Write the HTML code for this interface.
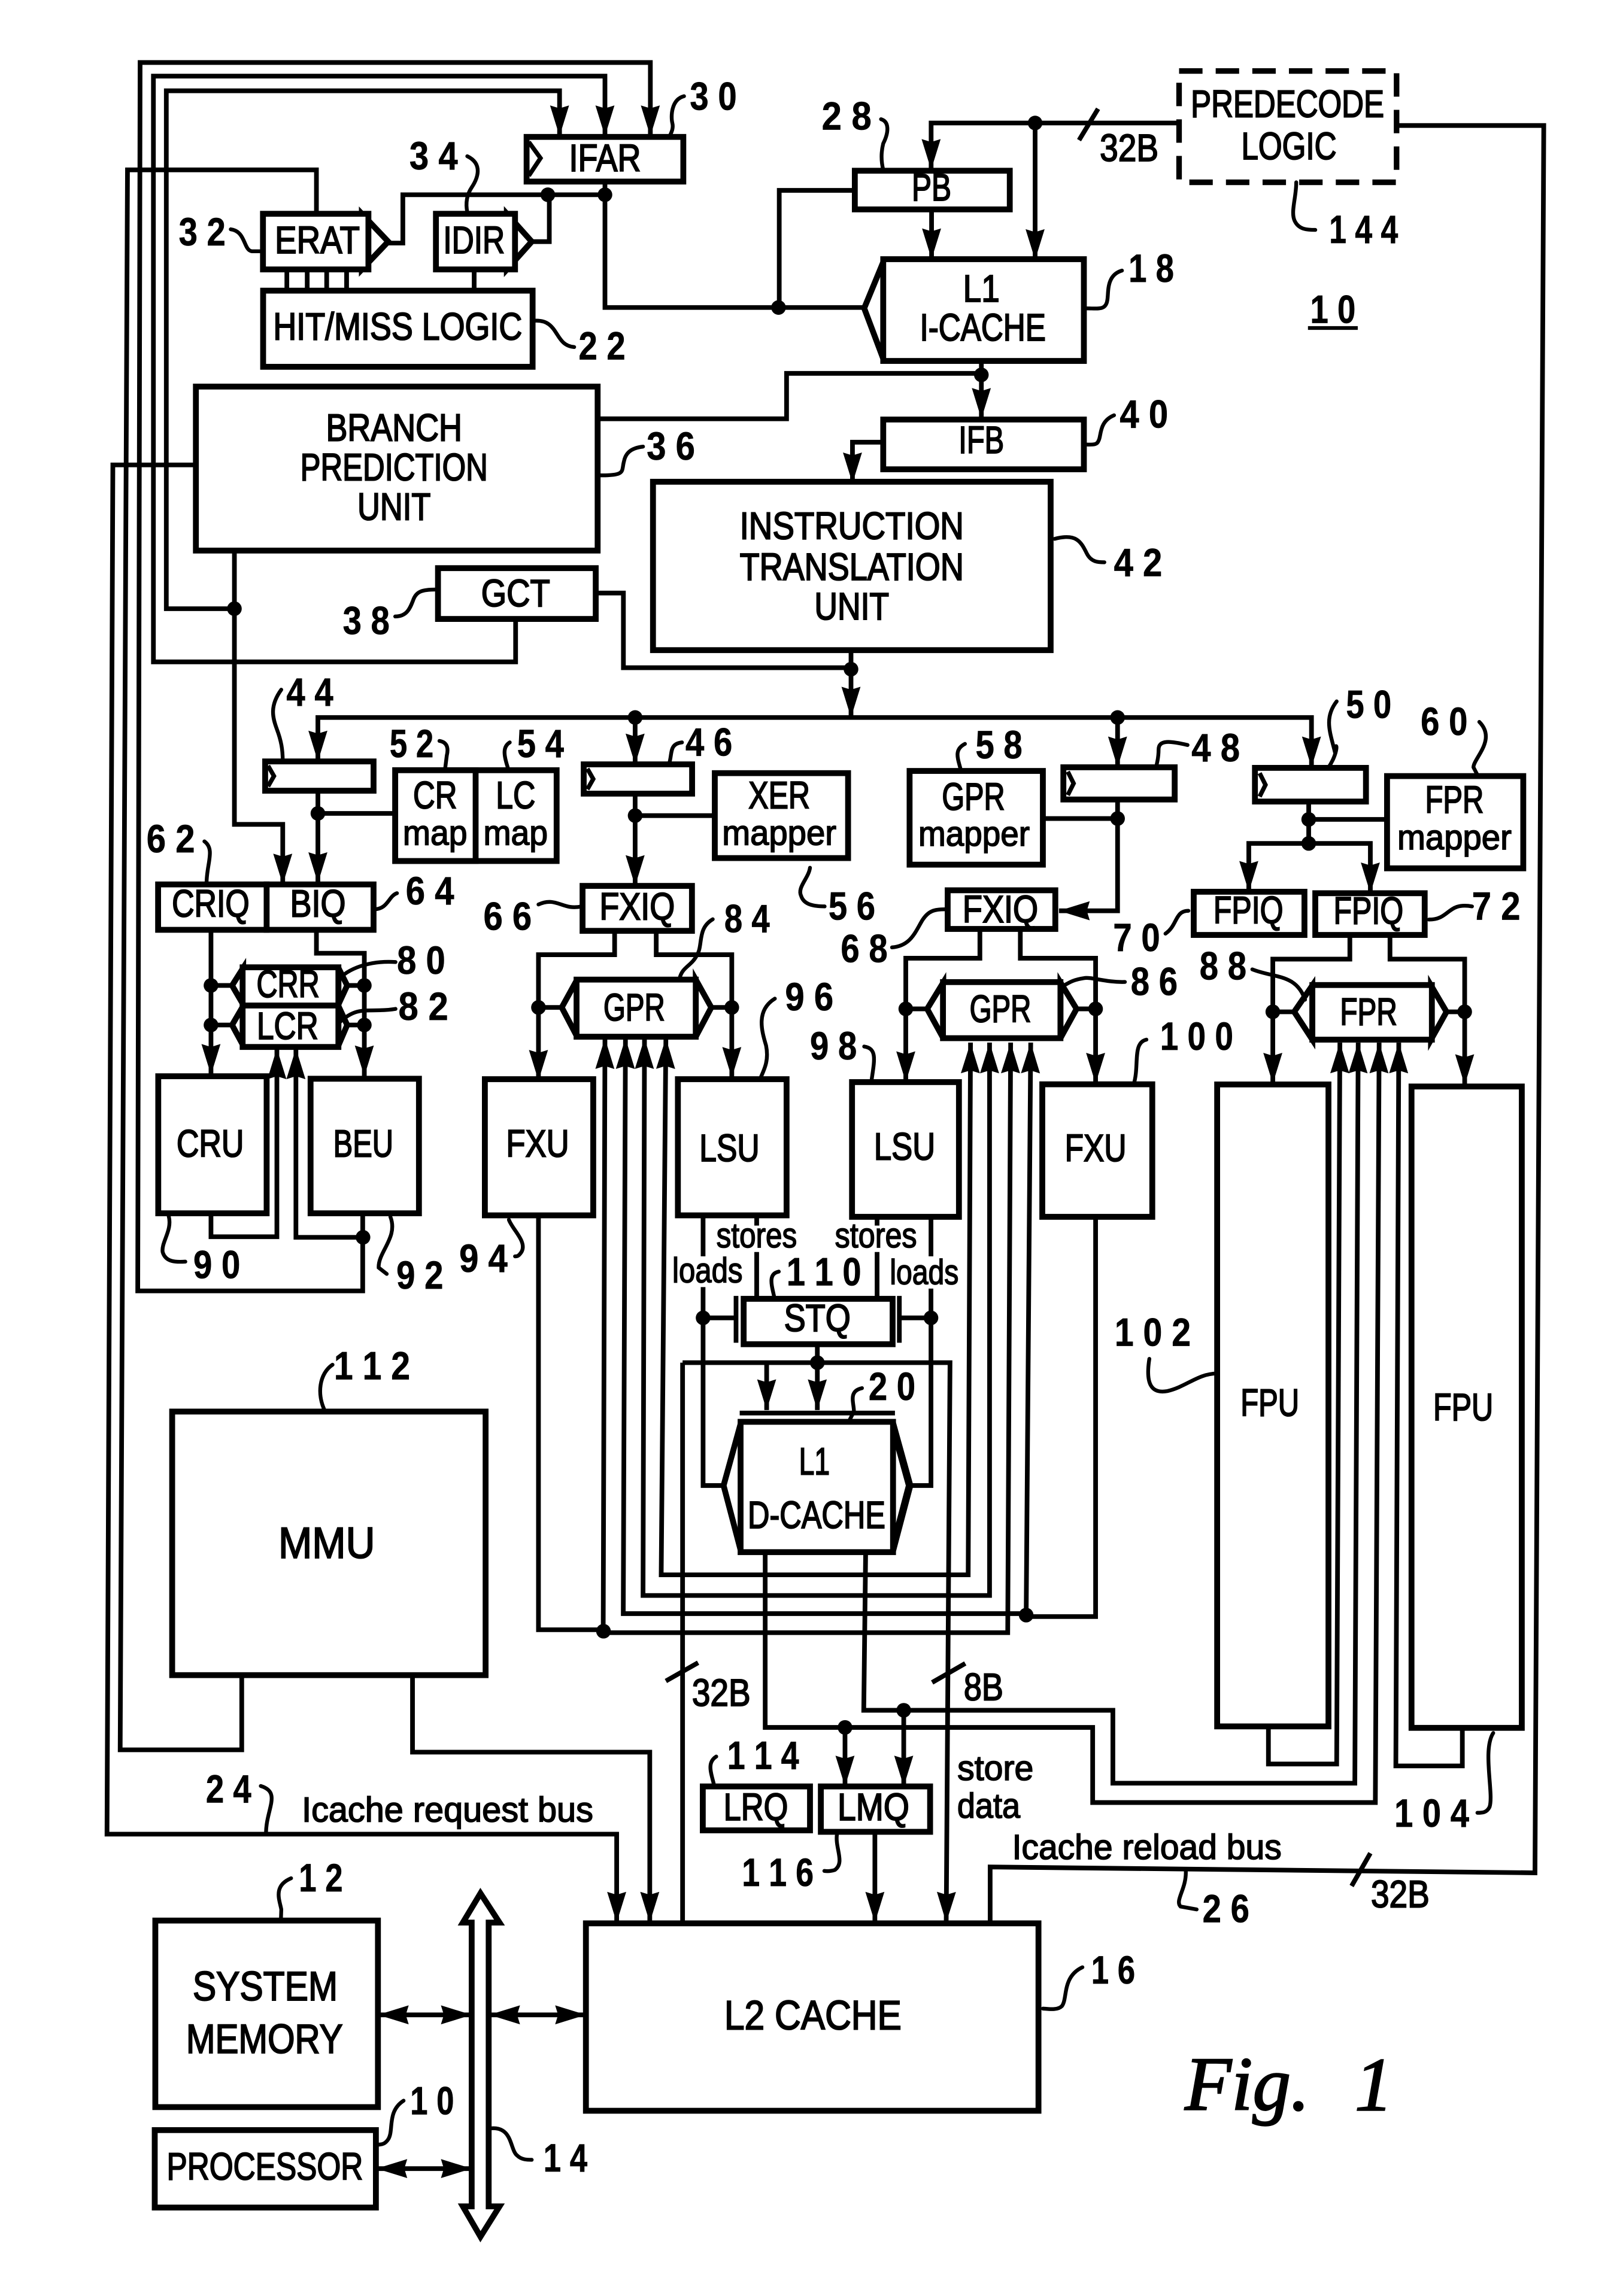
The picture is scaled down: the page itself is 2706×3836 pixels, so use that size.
<!DOCTYPE html>
<html><head><meta charset="utf-8"><title>Fig. 1</title>
<style>
html,body{margin:0;padding:0;background:#fff}
svg{display:block}
text{font-family:"Liberation Sans",sans-serif;fill:#000;text-anchor:middle}
.t{font-size:26px;stroke:#000;stroke-width:.85px}
.s{font-size:24px;stroke:#000;stroke-width:.7px}
.n{font-size:27px;font-weight:bold;stroke:#000;stroke-width:.3px}
.f{font-family:"Liberation Serif",serif;font-style:italic;font-size:52px;text-anchor:start;stroke:#000;stroke-width:1px}
.w path{fill:none;stroke:#000;stroke-width:3.2;stroke-linejoin:miter}
.a path{marker-end:url(#m)}
.b rect,.b polygon{fill:#fff;stroke:#000;stroke-width:4}
.c polyline{fill:none;stroke:#000;stroke-width:3}
.l path{fill:none;stroke:#000;stroke-width:2.6;stroke-linecap:round}
.d circle{fill:#000}
</style></head><body>
<svg xmlns="http://www.w3.org/2000/svg" width="2706" height="3836" viewBox="0 0 1106 1568">
<defs><marker id="m" markerUnits="userSpaceOnUse" markerWidth="24" markerHeight="16" refX="21" refY="7" orient="auto-start-reverse" overflow="visible"><path d="M0 0.5L21 7L0 13.5L2 7z" fill="#000"/></marker></defs>
<rect width="1106" height="1568" fill="#fff"/>

<g class="w a">
<path d="M247.6 829V881.6H94L95.6 42.7H444V93"/>
<path d="M352 422V452H104.7V52H413V93"/>
<path d="M160 415.7H113.5V62H382V93"/>
<path d="M133 317.5H77L73 1252.6H421V1313"/>
<path d="M281.6 1145V1196.6H443.6V1313"/>
<path d="M670 246V286"/>
<path d="M603 302H582V330"/>
<path d="M160 377V563H193V604"/>
<path d="M581 444V490"/>
<path d="M581 490H217V520"/>
<path d="M581 490H895.4V524"/>
<path d="M433.6 490V522"/>
<path d="M763 490V524"/>
<path d="M217 540V603"/>
<path d="M433.6 542V605"/>
<path d="M763 546V622H723"/>
<path d="M893.5 576H852.6V609"/>
<path d="M893.5 576H935.6V610"/>
<path d="M144 635V734"/>
<path d="M216 635V651H248.7V735"/>
<path d="M144 829V844.6H189V716"/>
<path d="M247.8 845H202V716"/>
<path d="M419.6 636V652H367.6V738"/>
<path d="M448 636V652H499.6V736"/>
<path d="M669 634V654.4H618.4V739"/>
<path d="M696.6 634V654.4H748V740"/>
<path d="M921.6 638V655H869V740"/>
<path d="M949 638V655H1000V741"/>
<path style="marker-start:url(#m)" d="M662.6 712L661 1075.5H451.4L454.6 709"/>
<path style="marker-start:url(#m)" d="M675.6 712V1089.6H439L440 709"/>
<path style="marker-start:url(#m)" d="M690 712L688 1115H411.8L413 709"/>
<path style="marker-start:url(#m)" d="M703.7 712L700.6 1102H425.5L427 709"/>
<path d="M558 918V963"/>
<path d="M523.4 930.6V963"/>
<path d="M466 930.6H648.6L646 1313"/>
<path d="M522.4 1060V1179.7H746V1231H939L941.6 712"/>
<path d="M591 1060L589.7 1168H759.8V1217.8H925L927.3 712"/>
<path d="M576.9 1179.7V1220"/>
<path d="M617 1168V1220"/>
<path d="M866 1180V1204.7H912.6L914.8 712"/>
<path d="M998.4 1180V1206H953L955 712"/>
<path d="M597.3 1251V1313"/>
<path d="M805 84H635.7V116"/>
<path d="M706.7 84V177.5"/>
<path d="M636 143V177"/>
<path style="marker-start:url(#m)" d="M258 1376H322"/>
<path style="marker-start:url(#m)" d="M334 1376H400"/>
<path style="marker-start:url(#m)" d="M257 1481H322"/>
</g>
<g class="w">
<path d="M216 146V116H87L82 1195H165V1145"/>
<path d="M265 166H275V133H413"/>
<path d="M363 165H375V133"/>
<path d="M413 124V210H590"/>
<path d="M583.6 130H532V210"/>
<path d="M408 286H537V255H670"/>
<path d="M406 405H425.6V456H581"/>
<path d="M217 555.5H270"/>
<path d="M433.6 557H488"/>
<path d="M763 559H712"/>
<path d="M893.5 547V576"/>
<path d="M893.5 559.6H947"/>
<path d="M144 673H158M144 700H158M237 673H248.7M237 700H248.7"/>
<path d="M367.6 688H383.5M485.6 688H499.6"/>
<path d="M618.4 689H633M735 689H748"/>
<path d="M869 691H883.6M987.6 691H1000"/>
<path d="M367.6 830V1113H412"/>
<path d="M748 831V1104H700"/>
<path d="M480 830V858M480 879V1014.5H494M480 900H502"/>
<path d="M635.6 831V858M635.6 880V1014.5H621M635.6 900H614"/>
<path d="M516.6 830V837M516.6 855V887M598.8 831V837M598.8 855V887"/>
<path d="M502.5 885V917M614 885V917"/>
<path d="M466 1313V930.6"/>
<path d="M505 965H611"/>
<path d="M953.5 85.7H1054L1048 1279L676 1275V1313"/>
<path d="M195.8 184V198M209.7 184V198M223 184V198M236.6 184V198M323.7 184V198"/>
<path d="M736.7 95.7L749.7 74.3M454.6 1148L476.6 1135.5M636.4 1149L659 1136M922.8 1288L935.6 1265.6"/>
</g>

<g class="b">
<polygon points="247,146 265,165 247,184"/>
<polygon points="346,146 363,165 346,184"/>
<polygon points="603,179 590,210.5 603,245"/>
<polygon points="166,661 158.4,673 166,686"/>
<polygon points="166,687 158.4,700 166,714"/>
<polygon points="231,661 237,673 231,686"/>
<polygon points="231,687 237,700 231,714"/>
<polygon points="394,669 383.5,688 394,708"/>
<polygon points="475,669 485.6,688 475,708"/>
<polygon points="644,671 633,689 644,709"/>
<polygon points="724,671 735,689 724,709"/>
<polygon points="896,673 883.6,691 896,710"/>
<polygon points="977,673 987.6,691 977,710"/>
<polygon points="506,971 494,1014.5 506,1060"/>
<polygon points="609,971 621,1014.5 609,1060" style="stroke-width:5"/>
<rect x="359.5" y="93.5" width="107" height="30.5"/>
<rect x="179.5" y="146" width="72" height="38"/>
<rect x="297.6" y="146" width="54" height="38"/>
<rect x="179.6" y="198.5" width="184" height="52"/>
<rect x="133.7" y="264" width="274.3" height="112"/>
<rect x="299" y="388" width="107.7" height="34.7"/>
<rect x="583.6" y="116.6" width="105.8" height="26.4"/>
<rect x="603" y="177" width="137" height="69.5"/>
<rect x="603" y="286.5" width="137" height="34"/>
<rect x="445.8" y="329" width="271.5" height="115"/>
<rect x="181" y="520" width="74" height="20"/>
<rect x="398.5" y="522" width="74" height="20"/>
<rect x="726" y="524" width="76" height="22"/>
<rect x="856.8" y="524.4" width="75.8" height="23"/>
<rect x="269.8" y="526" width="110.2" height="62"/>
<rect x="269.8" y="526" width="54.9" height="62"/>
<rect x="488" y="528" width="91" height="58"/>
<rect x="621" y="526.5" width="91" height="64"/>
<rect x="947" y="530" width="93" height="63"/>
<rect x="107.9" y="604" width="74.1" height="31"/>
<rect x="182" y="604" width="73" height="31"/>
<rect x="397.7" y="605" width="74.7" height="30.7"/>
<rect x="647" y="608" width="73.5" height="26.4"/>
<rect x="815" y="609" width="75.6" height="29.5"/>
<rect x="898" y="610" width="74.7" height="28.5"/>
<rect x="165.6" y="660.6" width="65.4" height="26.1"/>
<rect x="165.6" y="686.7" width="65.4" height="28.3"/>
<rect x="393.6" y="669" width="81.4" height="39"/>
<rect x="643.8" y="670.7" width="80.2" height="38.3"/>
<rect x="896" y="672.7" width="81.6" height="37.3"/>
<rect x="108" y="735" width="74" height="93.6"/>
<rect x="212" y="736.7" width="74" height="91.9"/>
<rect x="331" y="737" width="74" height="93"/>
<rect x="462.8" y="737" width="74.2" height="93"/>
<rect x="581.7" y="739" width="73" height="92"/>
<rect x="711.6" y="740.5" width="75.1" height="90.5"/>
<rect x="831" y="740.6" width="76" height="438.4"/>
<rect x="963.7" y="742" width="75.3" height="438"/>
<rect x="507.7" y="887" width="101.7" height="31"/>
<rect x="505.6" y="971" width="104.1" height="89"/>
<rect x="117.5" y="964" width="214" height="180"/>
<rect x="479.8" y="1220" width="73.2" height="30"/>
<rect x="560.4" y="1220" width="74.6" height="31"/>
<rect x="106" y="1311.6" width="152" height="127.4"/>
<rect x="105.6" y="1454.7" width="151" height="52.9"/>
<rect x="400" y="1313.5" width="309" height="128"/>
<polygon points="328,1293 341,1313 333.6,1313 333.6,1506.8 341,1506.8 328,1527.5 316,1506.8 322,1506.8 322,1313 316,1313"/>
</g>
<rect x="805" y="48.5" width="148.5" height="76" fill="none" stroke="#000" stroke-width="3.8" stroke-dasharray="16 9"/>

<g class="c">
<polyline points="361,97 369,108 361,120"/>
<polyline points="183,523 187,530 183,537"/>
<polyline points="401,525 405,532 401,539"/>
<polyline points="729,527 733,535 729,543"/>
<polyline points="860,528 864,536 860,544"/>
</g>

<g class="d">
<circle cx="374" cy="133" r="5"/><circle cx="413" cy="133" r="5"/><circle cx="531.5" cy="210" r="5"/><circle cx="670" cy="256" r="5"/><circle cx="706.7" cy="84" r="5"/><circle cx="160" cy="415.7" r="5"/><circle cx="581" cy="457" r="5"/><circle cx="433.6" cy="490" r="5"/><circle cx="763" cy="490" r="5"/><circle cx="217" cy="555.5" r="5"/><circle cx="433.6" cy="557" r="5"/><circle cx="763" cy="559" r="5"/><circle cx="893.5" cy="559.6" r="5"/><circle cx="893.5" cy="576" r="5"/><circle cx="144" cy="673" r="5"/><circle cx="144" cy="700" r="5"/><circle cx="248.7" cy="673" r="5"/><circle cx="248.7" cy="700" r="5"/><circle cx="247.8" cy="845" r="5"/><circle cx="367.6" cy="688" r="5"/><circle cx="499.6" cy="688" r="5"/><circle cx="618.4" cy="689" r="5"/><circle cx="748" cy="689" r="5"/><circle cx="869" cy="691" r="5"/><circle cx="1000" cy="691" r="5"/><circle cx="412" cy="1114" r="5"/><circle cx="700.6" cy="1103" r="5"/><circle cx="480" cy="900" r="5"/><circle cx="635.6" cy="900" r="5"/><circle cx="558" cy="930.6" r="5"/><circle cx="576.9" cy="1179.7" r="5"/><circle cx="617" cy="1168" r="5"/>
</g>

<g class="l">
<path d="M467 65.7C458 68 458 80 459 84C460 88 458 91 457 93.5"/>
<path d="M601.5 81.4C607 83 607 90 603 98C601 106 602 112 603 116"/>
<path d="M319 106.7C330 112 326 122 322 128C318 134 318 140 319 145"/>
<path d="M157.5 156.6C168 158 166 171 172 171.6H179.5"/>
<path d="M365 219C382 218 378 236 392 237"/>
<path d="M408 324.6C428 325 424 322 426 315C427 310 430 306 439 305"/>
<path d="M269.8 421C278 421 280 415 282 410C284 404 288 402.6 297.5 402.6"/>
<path d="M766 184.8C755 188 757 200 756 205C755 212 750 210.6 741.6 210.6"/>
<path d="M760.6 283.6C750 288 752 298 750 301C749 304 746 303.6 741.6 303.6"/>
<path d="M720 368C735 364 738 370 742 378C745 384 750 384 754 384"/>
<path d="M885 124.5C885 135 881 145 884 151C887 157 893 157 898 157"/>
<path d="M192 471C184 482 186 490 189 498C192 506 193 512 193 520"/>
<path d="M300 506C306 507 306 512 305 516L304 524"/>
<path d="M348 507C343 510 344 516 346.6 524"/>
<path d="M465.6 507C457 508 459 514 457 521"/>
<path d="M553 592.6C552 600 544 606 547 612C549 618 556 619 563 619"/>
<path d="M658.8 508C651 512 654 518 656 526"/>
<path d="M810.8 508.8C799 506 791 505 791 512C791 518 790 520 789.4 524"/>
<path d="M912.6 479C904 490 908 500 911 512C913 505 914 514 906.8 524.4"/>
<path d="M1010 493C1022 505 1006 518 1006 524L1008.6 529"/>
<path d="M139.5 574.6C147 580 141 590 141 603"/>
<path d="M271 610C265 612 265 621 255 621"/>
<path d="M270 657C255 656 240 660 232 668"/>
<path d="M270 689C252 692 245 686 232 698"/>
<path d="M367.6 617.7C380 612 384 622 397 619"/>
<path d="M486.6 627.8C476 634 480 645 476 652C472 660 466 660 464 668"/>
<path d="M529 682C516 690 520 704 523 714C525 724 522 730 519 736.6"/>
<path d="M609 647C622 646 625 636 630 628C634 622 638 621 645 621"/>
<path d="M795.7 637.6C804 632 802 622 811.4 622"/>
<path d="M975.6 628C990 628 988 616 1005 619"/>
<path d="M768 670.6C755 671 745 667 740 668C733 669 730 671 727 672.7"/>
<path d="M855 662C870 668 885 665 891 682.7"/>
<path d="M590 714.7C599 716 597 724 595 738"/>
<path d="M782.7 710C773 712 778 728 774 740.5"/>
<path d="M115 830C118 840 110 848 111 855C113 862 120 862 126.5 861.6"/>
<path d="M266.5 831C272 845 258 855 258.5 865.7L264 870"/>
<path d="M347.4 833C350 840 360 848 356 855C354 858 353 858 351.6 858"/>
<path d="M531.7 868.4C524 870 527 878 528.6 886"/>
<path d="M588.5 948C579 950 583 958 583 964L579.6 970.6"/>
<path d="M784.7 928C782 945 786 952 797 950C810 947 818 938 831 938"/>
<path d="M1019.5 1183.5C1012 1195 1020 1225 1017 1234C1015 1238 1012 1238 1008.7 1238"/>
<path d="M489 1199.6C482 1204 486 1212 487.6 1219.6"/>
<path d="M571.4 1252.7C570 1262 577 1272 570 1277C567 1278 565 1278 562.8 1277.7"/>
<path d="M178 1219.7C192 1224 182 1235 181.6 1251"/>
<path d="M198.7 1282.7C186 1288 191 1298 192 1304L191.8 1310"/>
<path d="M275.5 1434.6C264 1442 269 1455 265 1461C263 1464 261 1464.6 258 1464.6"/>
<path d="M335 1453.5C350 1452 348 1468 353 1472C356 1475 360 1475 363 1475"/>
<path d="M739 1343.5C725 1350 729 1365 725 1370C722 1373 716 1372 712 1371.7"/>
<path d="M809.6 1278C810 1290 802 1298 806 1302L817 1304"/>
<path d="M222 964C216 952 218 938 227 932"/>
</g>

<!-- box labels -->
<g class="t">
<text x="413" y="117" textLength="49" lengthAdjust="spacingAndGlyphs">IFAR</text>
<text x="216.6" y="173" textLength="58" lengthAdjust="spacingAndGlyphs">ERAT</text>
<text x="323.6" y="173" textLength="42" lengthAdjust="spacingAndGlyphs">IDIR</text>
<text x="271.5" y="232" textLength="170" lengthAdjust="spacingAndGlyphs">HIT/MISS LOGIC</text>
<text x="269" y="301" textLength="93" lengthAdjust="spacingAndGlyphs">BRANCH</text>
<text x="269" y="328" textLength="128" lengthAdjust="spacingAndGlyphs">PREDICTION</text>
<text x="269" y="355" textLength="50" lengthAdjust="spacingAndGlyphs">UNIT</text>
<text x="352" y="414" textLength="47" lengthAdjust="spacingAndGlyphs">GCT</text>
<text x="636" y="137" textLength="27" lengthAdjust="spacingAndGlyphs">PB</text>
<text x="670" y="206" textLength="25" lengthAdjust="spacingAndGlyphs">L1</text>
<text x="671" y="232.6" textLength="86" lengthAdjust="spacingAndGlyphs">I-CACHE</text>
<text x="670" y="309.5" textLength="31" lengthAdjust="spacingAndGlyphs">IFB</text>
<text x="581.5" y="368" textLength="153" lengthAdjust="spacingAndGlyphs">INSTRUCTION</text>
<text x="581.5" y="396" textLength="153" lengthAdjust="spacingAndGlyphs">TRANSLATION</text>
<text x="581.5" y="423" textLength="51" lengthAdjust="spacingAndGlyphs">UNIT</text>
<text x="879" y="80" textLength="132" lengthAdjust="spacingAndGlyphs">PREDECODE</text>
<text x="880" y="108.7" textLength="65" lengthAdjust="spacingAndGlyphs">LOGIC</text>
<text x="770.9" y="110" textLength="40" lengthAdjust="spacingAndGlyphs">32B</text>
<text x="297" y="552" textLength="30" lengthAdjust="spacingAndGlyphs">CR</text>
<text x="352" y="552" textLength="27" lengthAdjust="spacingAndGlyphs">LC</text>
<text x="532" y="552" textLength="42" lengthAdjust="spacingAndGlyphs">XER</text>
<text x="664.6" y="553" textLength="43" lengthAdjust="spacingAndGlyphs">GPR</text>
<text x="993" y="555" textLength="40" lengthAdjust="spacingAndGlyphs">FPR</text>
<text x="143.8" y="626" textLength="53" lengthAdjust="spacingAndGlyphs">CRIQ</text>
<text x="217" y="626" textLength="38" lengthAdjust="spacingAndGlyphs">BIQ</text>
<text x="435" y="628" textLength="51.5" lengthAdjust="spacingAndGlyphs">FXIQ</text>
<text x="683" y="630" textLength="51.6" lengthAdjust="spacingAndGlyphs">FXIQ</text>
<text x="852.3" y="630.6" textLength="47.7" lengthAdjust="spacingAndGlyphs">FPIQ</text>
<text x="934.3" y="631" textLength="47.7" lengthAdjust="spacingAndGlyphs">FPIQ</text>
<text x="196.6" y="681" textLength="43" lengthAdjust="spacingAndGlyphs">CRR</text>
<text x="196.3" y="709.6" textLength="42" lengthAdjust="spacingAndGlyphs">LCR</text>
<text x="433" y="697" textLength="42" lengthAdjust="spacingAndGlyphs">GPR</text>
<text x="683" y="698" textLength="42" lengthAdjust="spacingAndGlyphs">GPR</text>
<text x="934.4" y="700" textLength="39" lengthAdjust="spacingAndGlyphs">FPR</text>
<text x="143.5" y="790" textLength="46" lengthAdjust="spacingAndGlyphs">CRU</text>
<text x="248" y="790" textLength="41" lengthAdjust="spacingAndGlyphs">BEU</text>
<text x="367" y="790" textLength="43" lengthAdjust="spacingAndGlyphs">FXU</text>
<text x="498" y="793" textLength="41" lengthAdjust="spacingAndGlyphs">LSU</text>
<text x="617.6" y="792" textLength="41.8" lengthAdjust="spacingAndGlyphs">LSU</text>
<text x="748" y="793" textLength="42" lengthAdjust="spacingAndGlyphs">FXU</text>
<text x="867" y="967" textLength="40" lengthAdjust="spacingAndGlyphs">FPU</text>
<text x="999" y="970" textLength="41" lengthAdjust="spacingAndGlyphs">FPU</text>
<text x="558" y="909" textLength="45.5" lengthAdjust="spacingAndGlyphs">STQ</text>
<text x="556" y="1007" textLength="21" lengthAdjust="spacingAndGlyphs">L1</text>
<text x="557.5" y="1043.6" textLength="94" lengthAdjust="spacingAndGlyphs">D-CACHE</text>
<text x="223" y="1064" textLength="66" lengthAdjust="spacingAndGlyphs" style="font-size:30px">MMU</text>
<text x="516" y="1243" textLength="44" lengthAdjust="spacingAndGlyphs">LRQ</text>
<text x="596.3" y="1243" textLength="49" lengthAdjust="spacingAndGlyphs">LMQ</text>
<text x="181" y="1366" textLength="99" lengthAdjust="spacingAndGlyphs" style="font-size:28px">SYSTEM</text>
<text x="180.5" y="1402" textLength="107" lengthAdjust="spacingAndGlyphs" style="font-size:28px">MEMORY</text>
<text x="180.8" y="1488.6" textLength="134" lengthAdjust="spacingAndGlyphs">PROCESSOR</text>
<text x="555" y="1386" textLength="121" lengthAdjust="spacingAndGlyphs" style="font-size:28px">L2 CACHE</text>
<text x="492.4" y="1165" textLength="40" lengthAdjust="spacingAndGlyphs">32B</text>
<text x="671.5" y="1161" textLength="27" lengthAdjust="spacingAndGlyphs">8B</text>
<text x="956" y="1302.6" textLength="40" lengthAdjust="spacingAndGlyphs">32B</text>
</g>
<g class="s">
<text x="297" y="577" textLength="44" lengthAdjust="spacingAndGlyphs">map</text>
<text x="352" y="577" textLength="44" lengthAdjust="spacingAndGlyphs">map</text>
<text x="532" y="577" textLength="78" lengthAdjust="spacingAndGlyphs">mapper</text>
<text x="665" y="577.6" textLength="76" lengthAdjust="spacingAndGlyphs">mapper</text>
<text x="993" y="580" textLength="78" lengthAdjust="spacingAndGlyphs">mapper</text>
<text x="516.6" y="851.8" textLength="55" lengthAdjust="spacingAndGlyphs">stores</text>
<text x="598" y="851.8" textLength="56" lengthAdjust="spacingAndGlyphs">stores</text>
<text x="483" y="875.7" textLength="48" lengthAdjust="spacingAndGlyphs">loads</text>
<text x="631" y="877" textLength="47" lengthAdjust="spacingAndGlyphs">loads</text>
<text x="679.6" y="1215.6" textLength="52" lengthAdjust="spacingAndGlyphs">store</text>
<text x="675" y="1241.5" textLength="43" lengthAdjust="spacingAndGlyphs">data</text>
<text x="305.5" y="1244" textLength="199" lengthAdjust="spacingAndGlyphs">Icache request bus</text>
<text x="783" y="1269.6" textLength="184" lengthAdjust="spacingAndGlyphs">Icache reload bus</text>
</g>

<!-- reference numerals -->
<g class="n">
<text x="487" y="75" textLength="32" lengthAdjust="spacingAndGlyphs">3 0</text>
<text x="578" y="88.6" textLength="34" lengthAdjust="spacingAndGlyphs">2 8</text>
<text x="296" y="115.7" textLength="33" lengthAdjust="spacingAndGlyphs">3 4</text>
<text x="138" y="167.5" textLength="32" lengthAdjust="spacingAndGlyphs">3 2</text>
<text x="411" y="245.5" textLength="32" lengthAdjust="spacingAndGlyphs">2 2</text>
<text x="458" y="314" textLength="33" lengthAdjust="spacingAndGlyphs">3 6</text>
<text x="250" y="433" textLength="32" lengthAdjust="spacingAndGlyphs">3 8</text>
<text x="211.5" y="482" textLength="32" lengthAdjust="spacingAndGlyphs">4 4</text>
<text x="281" y="517" textLength="30" lengthAdjust="spacingAndGlyphs">5 2</text>
<text x="369" y="517" textLength="32" lengthAdjust="spacingAndGlyphs">5 4</text>
<text x="484" y="516" textLength="32" lengthAdjust="spacingAndGlyphs">4 6</text>
<text x="581.6" y="628" textLength="32" lengthAdjust="spacingAndGlyphs">5 6</text>
<text x="116.5" y="582" textLength="33" lengthAdjust="spacingAndGlyphs">6 2</text>
<text x="293.5" y="617.7" textLength="33" lengthAdjust="spacingAndGlyphs">6 4</text>
<text x="346.5" y="635" textLength="33" lengthAdjust="spacingAndGlyphs">6 6</text>
<text x="590" y="657" textLength="32" lengthAdjust="spacingAndGlyphs">6 8</text>
<text x="776" y="649.6" textLength="32" lengthAdjust="spacingAndGlyphs">7 0</text>
<text x="1021.5" y="628" textLength="33" lengthAdjust="spacingAndGlyphs">7 2</text>
<text x="287.5" y="665" textLength="33" lengthAdjust="spacingAndGlyphs">8 0</text>
<text x="289" y="696.6" textLength="34" lengthAdjust="spacingAndGlyphs">8 2</text>
<text x="510" y="636.6" textLength="31" lengthAdjust="spacingAndGlyphs">8 4</text>
<text x="788" y="679.5" textLength="32" lengthAdjust="spacingAndGlyphs">8 6</text>
<text x="835" y="669" textLength="32" lengthAdjust="spacingAndGlyphs">8 8</text>
<text x="552.5" y="690" textLength="33" lengthAdjust="spacingAndGlyphs">9 6</text>
<text x="569" y="723.6" textLength="32" lengthAdjust="spacingAndGlyphs">9 8</text>
<text x="817" y="717" textLength="50" lengthAdjust="spacingAndGlyphs">1 0 0</text>
<text x="787" y="919" textLength="52" lengthAdjust="spacingAndGlyphs">1 0 2</text>
<text x="977.5" y="1247.6" textLength="51" lengthAdjust="spacingAndGlyphs">1 0 4</text>
<text x="148" y="873" textLength="32" lengthAdjust="spacingAndGlyphs">9 0</text>
<text x="286.6" y="880" textLength="32" lengthAdjust="spacingAndGlyphs">9 2</text>
<text x="330" y="868.6" textLength="33" lengthAdjust="spacingAndGlyphs">9 4</text>
<text x="562.5" y="877.8" textLength="51" lengthAdjust="spacingAndGlyphs">1 1 0</text>
<text x="609" y="956" textLength="32" lengthAdjust="spacingAndGlyphs">2 0</text>
<text x="254" y="942" textLength="52" lengthAdjust="spacingAndGlyphs">1 1 2</text>
<text x="521" y="1208" textLength="49" lengthAdjust="spacingAndGlyphs">1 1 4</text>
<text x="531" y="1288" textLength="49" lengthAdjust="spacingAndGlyphs">1 1 6</text>
<text x="156" y="1231" textLength="31" lengthAdjust="spacingAndGlyphs">2 4</text>
<text x="219" y="1291.6" textLength="30" lengthAdjust="spacingAndGlyphs">1 2</text>
<text x="295" y="1444" textLength="30" lengthAdjust="spacingAndGlyphs">1 0</text>
<text x="386" y="1483" textLength="30" lengthAdjust="spacingAndGlyphs">1 4</text>
<text x="760" y="1354.6" textLength="30" lengthAdjust="spacingAndGlyphs">1 6</text>
<text x="837" y="1312.7" textLength="32" lengthAdjust="spacingAndGlyphs">2 6</text>
<text x="931" y="166" textLength="47" lengthAdjust="spacingAndGlyphs">1 4 4</text>
<text x="910" y="220.5" textLength="31" lengthAdjust="spacingAndGlyphs">1 0</text>
<text x="786" y="192.5" textLength="31" lengthAdjust="spacingAndGlyphs">1 8</text>
<text x="781" y="292" textLength="33" lengthAdjust="spacingAndGlyphs">4 0</text>
<text x="777" y="393.5" textLength="33" lengthAdjust="spacingAndGlyphs">4 2</text>
<text x="934.5" y="490.4" textLength="31" lengthAdjust="spacingAndGlyphs">5 0</text>
<text x="986" y="502" textLength="32" lengthAdjust="spacingAndGlyphs">6 0</text>
<text x="830" y="520" textLength="33" lengthAdjust="spacingAndGlyphs">4 8</text>
<text x="682" y="518" textLength="32" lengthAdjust="spacingAndGlyphs">5 8</text>
</g>
<path d="M893 224H927" stroke="#000" stroke-width="2.6" fill="none"/>
<text class="f" x="809" y="1440.6">Fig.</text>
<text class="f" x="925" y="1441">1</text>
</svg>
</body></html>
